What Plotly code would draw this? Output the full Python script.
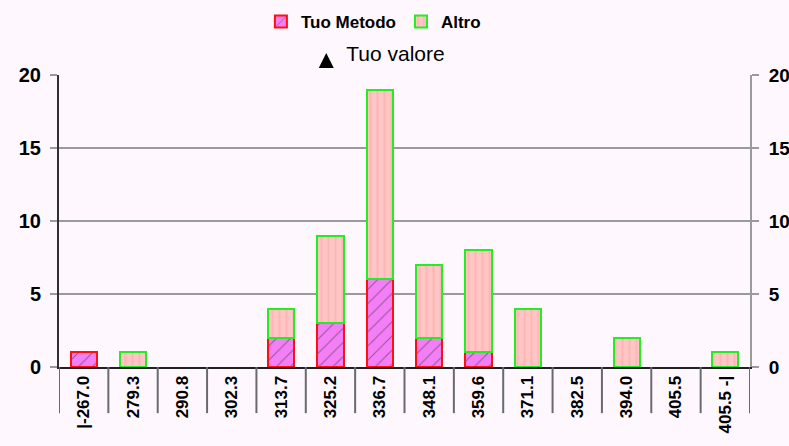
import plotly.graph_objects as go

# class labels (x axis) and counts for the two series
classi = ['|-267.0', '279.3', '290.8', '302.3', '313.7', '325.2', '336.7',
          '348.1', '359.6', '371.1', '382.5', '394.0', '405.5', '405.5 -|']
tuo_metodo = [1, 0, 0, 0, 2, 3, 6, 2, 1, 0, 0, 0, 0, 0]
altro = [0, 1, 0, 0, 2, 6, 13, 5, 7, 4, 0, 2, 0, 1]

# where "Tuo valore" falls (marker sits under the class labels)
tuo_valore_classe = ['325.2']
tuo_valore_y = [-4.4]

y_max = 20
bg = '#FEF8FE'
font_fam = 'Liberation Sans, Arial'


def no_zero(vals):
    # empty classes get no bar (avoids a flat outline on the axis)
    return [v if v else None for v in vals]


fig = go.Figure()

fig.add_trace(go.Bar(
    x=classi, y=no_zero(tuo_metodo), name='Tuo Metodo',
    marker=dict(color='#F47EF6', line=dict(color='#FF1010', width=2),
                pattern=dict(shape='/', fgcolor='#303030', size=10, solidity=0.1)),
))
fig.add_trace(go.Bar(
    x=classi, y=no_zero(altro), name='Altro',
    marker=dict(color='#FFC6C6', line=dict(color='#22EE22', width=2),
                pattern=dict(shape='|', fgcolor='#FFA4A4', size=7, solidity=0.3)),
))
fig.add_trace(go.Scatter(
    x=tuo_valore_classe, y=tuo_valore_y, name='Tuo valore', mode='markers',
    marker=dict(symbol='arrow-up', size=15, color='black'),
    cliponaxis=False, legend='legend2',
))
# invisible trace so the right-hand axis gets drawn
fig.add_trace(go.Scatter(x=classi, y=altro, yaxis='y2', mode='markers',
                         marker=dict(opacity=0), showlegend=False, hoverinfo='skip'))

# separators between the classes below the x axis
for i in range(len(classi) + 1):
    fig.add_shape(type='line', xref='x', yref='paper', x0=i - 0.5, x1=i - 0.5,
                  y0=0, y1=-0.158, line=dict(color='#6A6A6A', width=2))

# the "Tuo valore" arrow under its class, drawn as a glyph so it is never hidden
fig.add_annotation(x=tuo_valore_classe[0], y=tuo_valore_y[0] / y_max,
                   xref='x', yref='paper', yanchor='top', showarrow=False,
                   text='⬆', font=dict(family='DejaVu Sans', size=24, color='black'))

fig.update_layout(
    width=789, height=446,
    margin=dict(l=59, r=39, t=75, b=79, autoexpand=False),
    paper_bgcolor=bg, plot_bgcolor=bg,
    barmode='stack', bargap=0.47,
    font=dict(family=font_fam, color='black'),
    legend=dict(orientation='h', x=0.455, xanchor='center', y=1.243, yanchor='top',
                font=dict(family=font_fam, size=17, weight='bold'),
                bgcolor='rgba(0,0,0,0)', traceorder='normal'),
    legend2=dict(orientation='h', x=0.462, xanchor='center', y=1.144, yanchor='top',
                 font=dict(family=font_fam, size=21),
                 bgcolor='rgba(0,0,0,0)'),
    xaxis=dict(type='category', range=[-0.5, len(classi) - 0.5], tickangle=-90,
               ticks='', showgrid=False,
               showline=True, linecolor='#202020', linewidth=2, automargin=False,
               tickfont=dict(family=font_fam, size=17, weight='bold'),
               fixedrange=True),
    yaxis=dict(range=[0, y_max], tickvals=[0, 5, 10, 15, 20], showgrid=True,
               gridcolor='#9A9A9A', gridwidth=2, zeroline=False, automargin=False,
               showline=True, linecolor='#303030', linewidth=2,
               ticks='outside', ticklen=7, tickcolor='#9A9A9A', tickwidth=2,
               tickfont=dict(size=20, weight='bold'), ticklabelstandoff=5),
    yaxis2=dict(range=[0, y_max], tickvals=[0, 5, 10, 15, 20], overlaying='y', side='right',
                showgrid=False, zeroline=False, showline=True, linecolor='#9A9A9A',
                linewidth=2, ticks='outside', ticklen=7, tickcolor='#9A9A9A', tickwidth=2,
                automargin=False, tickfont=dict(size=19, weight='bold'),
                ticklabelstandoff=6),
)

# page body has an 8px default margin; drop it so the chart sits at the corner
fig.write_html('out.html', config={'displayModeBar': False},
               post_script="document.body.style.margin='0';")
